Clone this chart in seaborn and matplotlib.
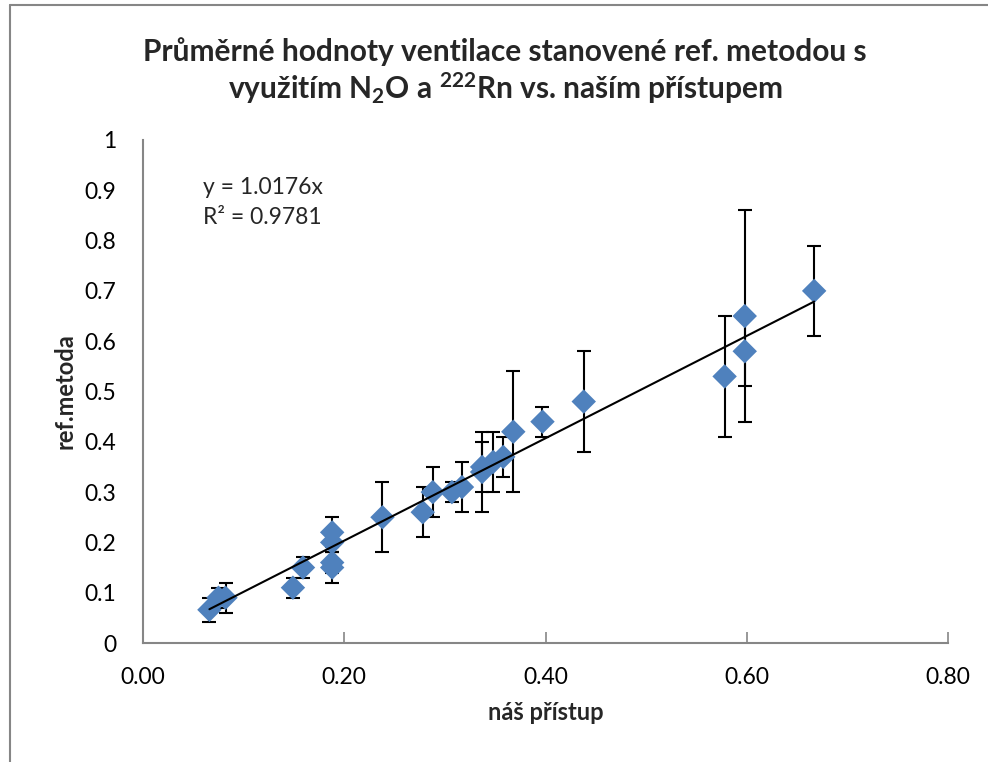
import matplotlib
matplotlib.use("Agg")
import matplotlib.pyplot as plt
import seaborn as sns
import numpy as np
import pandas as pd
from matplotlib.lines import Line2D

# ---- data ----
nas_pristup = [0.066, 0.075, 0.082, 0.149, 0.159, 0.188, 0.188, 0.188, 0.188,
               0.238, 0.278, 0.288, 0.307, 0.317, 0.337, 0.337, 0.348, 0.358,
               0.368, 0.397, 0.438, 0.578, 0.598, 0.598, 0.667]
ref_metoda = [0.066, 0.09, 0.09, 0.11, 0.15, 0.22, 0.20, 0.16, 0.15,
              0.25, 0.26, 0.30, 0.30, 0.31, 0.34, 0.35, 0.36, 0.37,
              0.42, 0.44, 0.48, 0.53, 0.65, 0.58, 0.70]
chyba = [0.024, 0.02, 0.03, 0.02, 0.02, 0.03, 0.02, 0.02, 0.03,
         0.07, 0.05, 0.05, 0.02, 0.05, 0.08, 0.05, 0.06, 0.04,
         0.12, 0.03, 0.10, 0.12, 0.21, 0.07, 0.09]
slope = 1.0176
r2 = 0.9781
x_ticks = [0.0, 0.2, 0.4, 0.6, 0.8]
y_ticks = [0, 0.1, 0.2, 0.3, 0.4, 0.5, 0.6, 0.7, 0.8, 0.9, 1]

df = pd.DataFrame({"x": nas_pristup, "y": ref_metoda, "err": chyba})

sns.set_theme(style="white")
plt.rcParams["font.family"] = ["Lato", "DejaVu Sans"]
plt.rcParams["mathtext.fontset"] = "custom"
plt.rcParams["mathtext.rm"] = "Lato:bold"
plt.rcParams["mathtext.it"] = "Lato:bold"
plt.rcParams["mathtext.bf"] = "Lato:bold"

fig = plt.figure(figsize=(9.88, 7.62), dpi=100)
ax = fig.add_axes([143/988, 1-643/762, (948-143)/988, (643-140)/762])

# error bars
ax.errorbar(df["x"], df["y"], yerr=df["err"], fmt="none", ecolor="black",
            elinewidth=1.5, capsize=5, capthick=1.5, zorder=2)
# markers
sns.scatterplot(data=df, x="x", y="y", marker="D", s=155, color="#4F81BD",
                edgecolor="none", linewidth=0, ax=ax, zorder=3)
# trendline
xs = np.array([min(nas_pristup), max(nas_pristup)])
ax.plot(xs, slope*xs, color="black", lw=1.5, zorder=4)

ax.set_xlim(0, 0.8)
ax.set_ylim(0, 1)
ax.set_xticks(x_ticks)
ax.set_xticklabels([f"{v:.2f}" for v in x_ticks])
ax.set_yticks(y_ticks)
ax.set_yticklabels([f"{v:g}" for v in y_ticks])

for s in ["top", "right"]:
    ax.spines[s].set_visible(False)
for s in ["left", "bottom"]:
    ax.spines[s].set_color("#868686")
    ax.spines[s].set_linewidth(1.5)

ax.tick_params(axis="x", direction="in", length=8, width=1.2, color="#868686",
               labelsize=16.5, pad=17, labelcolor="black", bottom=True)
ax.tick_params(axis="y", length=0, labelsize=16.5, pad=19, labelcolor="black", left=False)

ax.set_xlabel("náš přístup", fontsize=17, fontweight="bold", labelpad=10)
ax.set_ylabel("ref.metoda", fontsize=17, fontweight="bold", labelpad=6)

fig.text(505/988, 1-52/762, "Průměrné hodnoty ventilace stanovené ref. metodou s",
         ha="center", va="center", fontsize=21.5, fontweight="bold")
fig.text(505/988, 1-88/762, r"využitím N$_2$O a $^{222}$Rn vs. naším přístupem",
         ha="center", va="center", fontsize=21.5, fontweight="bold")

ax.text(0.075, 0.905, f"y = {slope}x", transform=ax.transAxes,
        fontsize=16.5, va="center", ha="left")
ax.text(0.075, 0.845, f"R² = {r2}", transform=ax.transAxes,
        fontsize=16.5, va="center", ha="left")

# chart area border
fig.add_artist(Line2D([10/988, 10/988], [0, 1-5/762], transform=fig.transFigure,
                      color="#868686", lw=1.5))
fig.add_artist(Line2D([10/988, 1], [1-5/762, 1-5/762], transform=fig.transFigure,
                      color="#868686", lw=1.5))

fig.savefig("out.png", dpi=100)
